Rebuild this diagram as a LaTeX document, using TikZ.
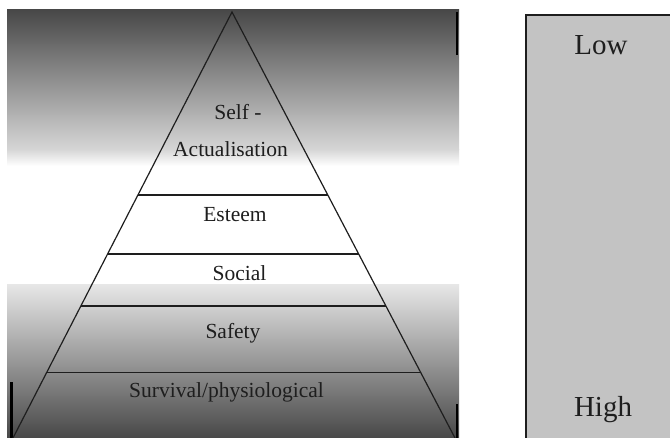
\documentclass[tikz,border=0pt]{standalone}
\usepackage{fontspec}
\setmainfont{Liberation Serif}
\usetikzlibrary{calc}
\definecolor{ink}{HTML}{1E1E1E}
\definecolor{darkbg}{HTML}{484848}
\definecolor{lightbg}{HTML}{D6D6D6}
\definecolor{panelgray}{HTML}{C3C3C3}
\tikzset{
  lvl/.style={draw=ink, line width=1.2pt},
  lbl/.style={anchor=base, inner sep=0pt, text=ink, font=\fontsize{21.5}{24}\selectfont},
  sidelbl/.style={anchor=base, inner sep=0pt, text=ink, font=\fontsize{29}{32}\selectfont},
  framemark/.style={draw=black, line width=2.2pt}
}
\begin{document}
\begin{tikzpicture}[x=1pt,y=1pt]
\useasboundingbox (0,0) rectangle (670,438);
\fill[white] (0,0) rectangle (670,438);
% left panel background
\shade[top color=darkbg, bottom color=lightbg] (7,288) rectangle (459,428);
\shade[top color=lightbg, bottom color=white] (7,272) rectangle (459,288.5);
\fill[white] (7,153) rectangle (459,272);
\shade[top color=lightbg!60!white, bottom color=darkbg] (7,0) rectangle (459,153);
% frame marks
\draw[framemark] (11.5,0) -- (11.5,56);
\draw[framemark] (457,383) -- (457,426);
\draw[framemark] (457,0) -- (457,34);
% triangle
\coordinate (apex) at (232,426);
\coordinate (bl) at (13,0);
\coordinate (br) at (455,0);
\draw[lvl] (bl) -- (apex) -- (br);
\foreach \t/\n in {0.4296/1,0.568/2,0.690/3,0.847/4}{
  \coordinate (l\n) at ($(apex)!\t!(bl)$);
  \coordinate (r\n) at ($(apex)!\t!(br)$);
  \draw[lvl] (l\n) -- (r\n);
}
% labels
\node[lbl] (self) at (238,318) {Self -};
\node[lbl] (act) at (230.5,281) {Actualisation};
\node[lbl] (est) at (235,216) {Esteem};
\node[lbl] (soc) at (239.5,157) {Social};
\node[lbl] (saf) at (233,99) {Safety};
\node[lbl] (sur) at (226.5,40) {Survival/physiological};
% right panel
\fill[panelgray] (526,0) rectangle (672,423);
\draw[ink, line width=1.5pt] (526,0) -- (526,423) -- (672,423);
\node[sidelbl] (low) at (601,383) {Low};
\node[sidelbl] (high) at (603,21) {High};
\end{tikzpicture}
\end{document}
